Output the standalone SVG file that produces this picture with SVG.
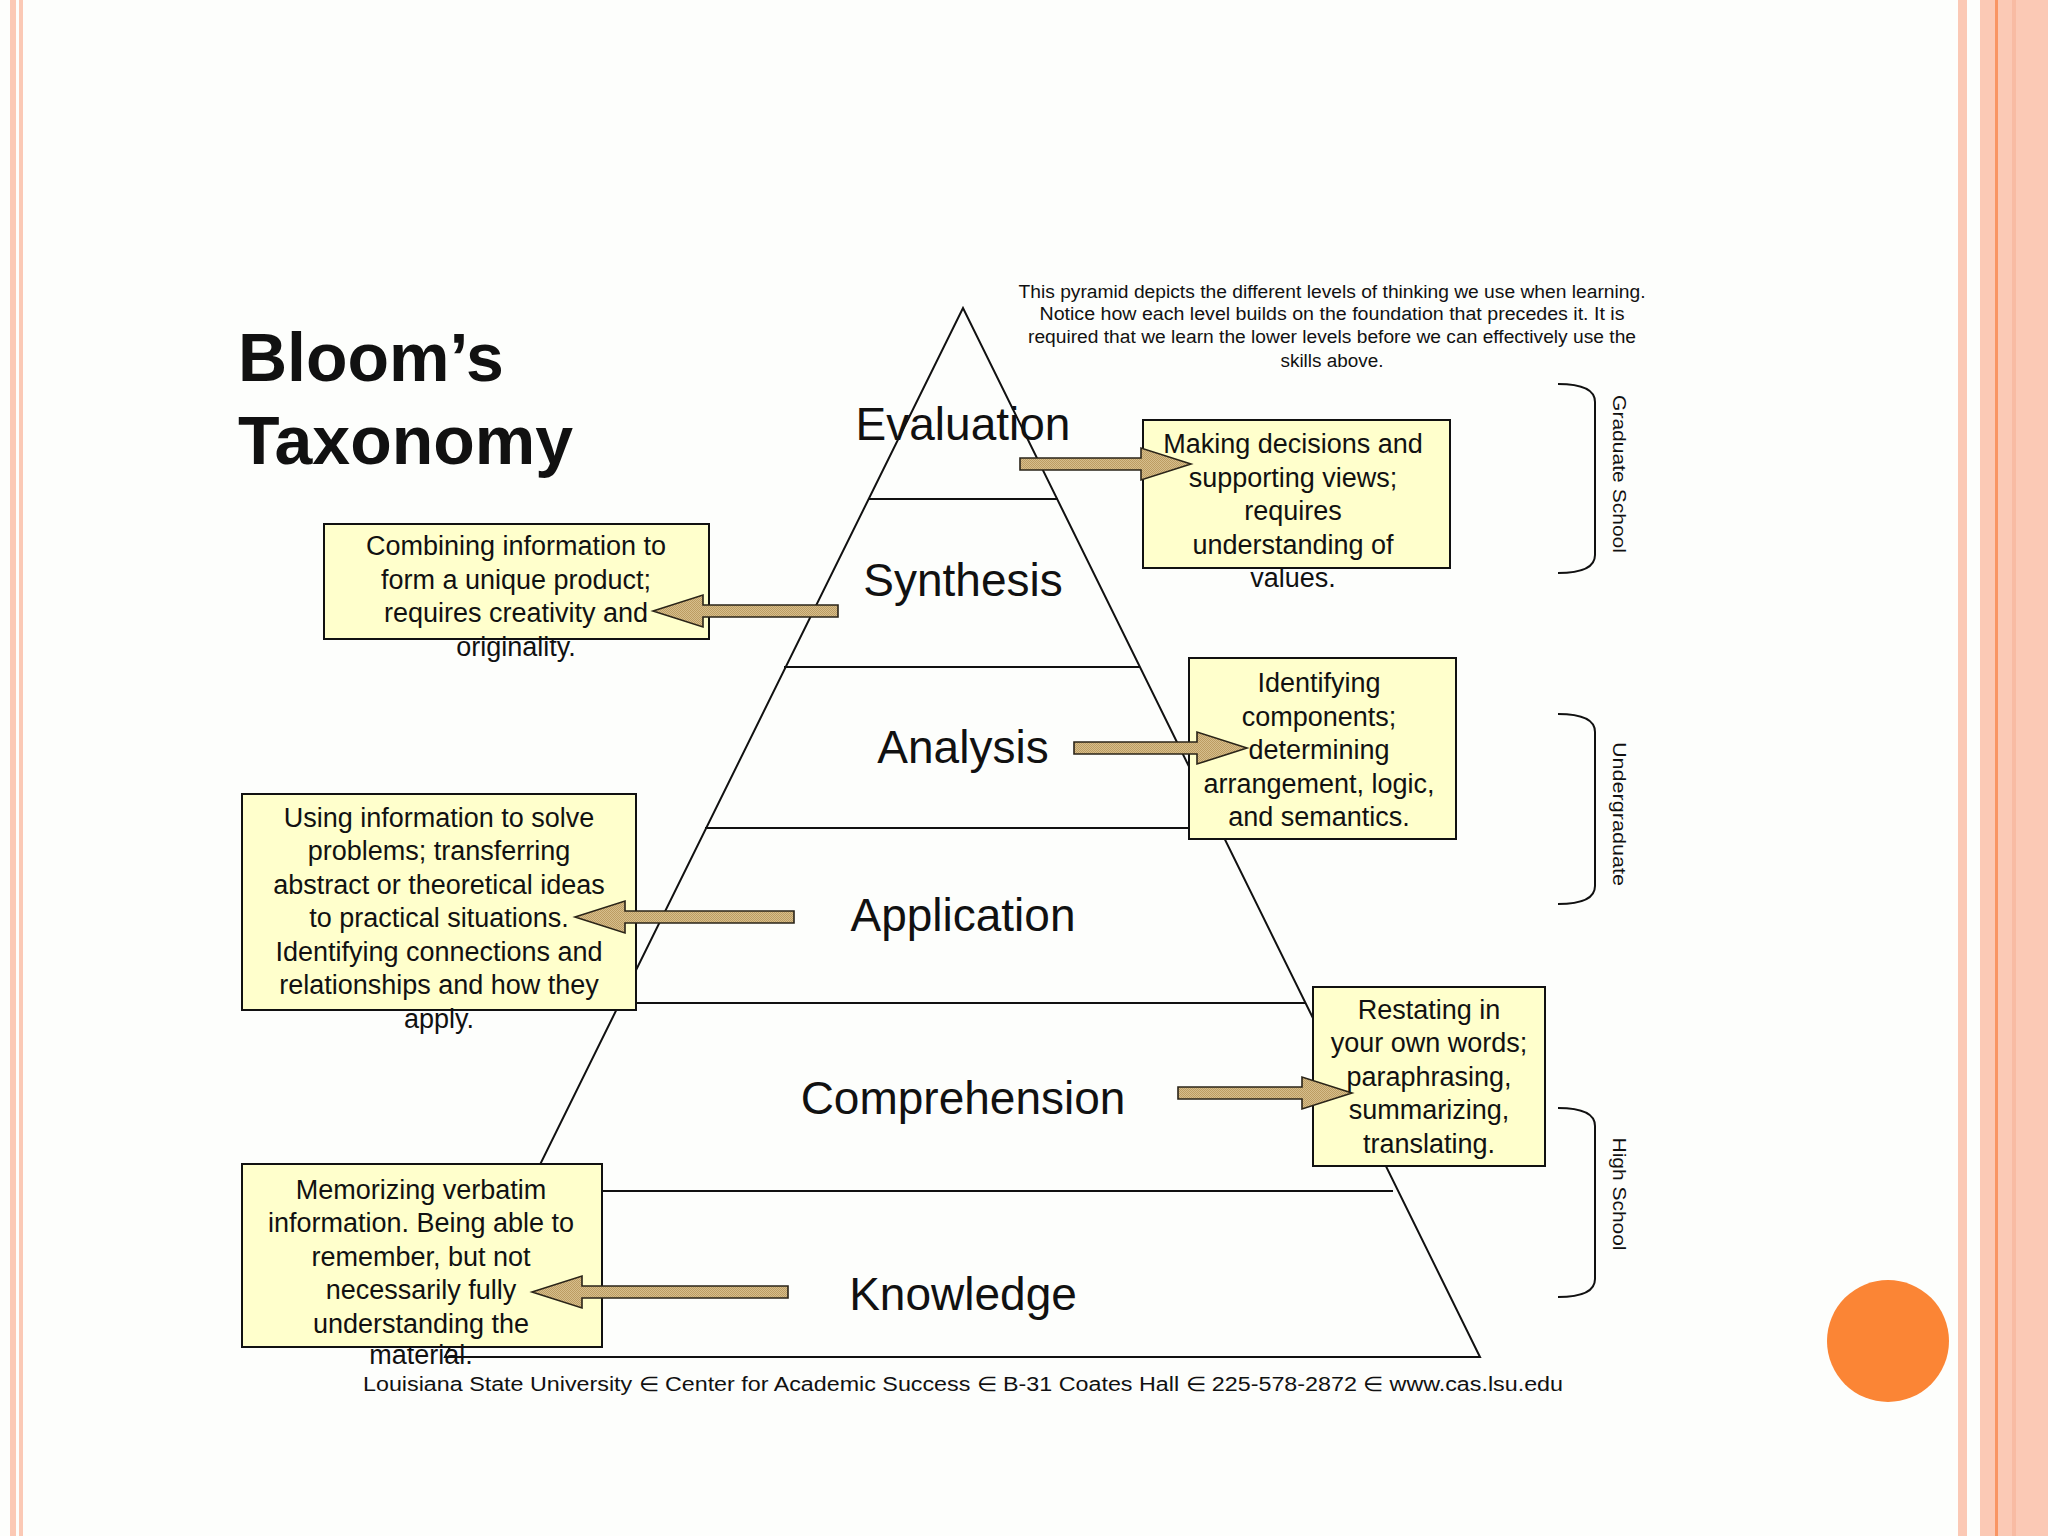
<svg xmlns="http://www.w3.org/2000/svg" width="2048" height="1536" viewBox="0 0 2048 1536">
<style>
.bg{fill:#FDFEFC}
.stripe{fill:#FBC9B5}
.pyr{stroke:#111;stroke-width:2;fill:none}
.box{fill:#FFFFCC;stroke:#111;stroke-width:2}
.bt{font-family:"Liberation Sans",Arial,sans-serif;font-size:27px;fill:#111;text-anchor:middle}
.lvl{font-family:"Liberation Sans",Arial,sans-serif;font-size:46px;fill:#111;text-anchor:middle}
.note{font-family:"Liberation Sans",Arial,sans-serif;font-size:18px;fill:#111;text-anchor:middle}
.arr{fill:url(#dither);stroke:#2a2418;stroke-width:1.6;stroke-linejoin:miter}
.br{fill:none;stroke:#111;stroke-width:2}
.side{font-family:"Liberation Sans",Arial,sans-serif;font-size:19px;fill:#111;text-anchor:middle}
</style>
<defs>
<pattern id="dither" width="2" height="2" patternUnits="userSpaceOnUse">
<rect x="0" y="0" width="2" height="2" fill="#D6BE8C"/>
<rect x="0" y="0" width="1" height="1" fill="#BC9C62"/>
<rect x="1" y="1" width="1" height="1" fill="#BC9C62"/>
</pattern>
</defs>
<rect class="bg" x="0" y="0" width="2048" height="1536"/>
<g id="slide-borders">
<rect class="stripe" x="10" y="0" width="6" height="1536"/>
<rect class="stripe" x="19" y="0" width="4" height="1536"/>
<rect class="stripe" x="1958" y="0" width="9" height="1536"/>
<rect class="stripe" x="1980" y="0" width="68" height="1536"/>
<rect x="1995" y="0" width="3" height="1536" fill="#F99563"/>
<rect x="2012" y="0" width="4" height="1536" fill="#F8BBA3"/>
</g>
<circle id="orange-dot" cx="1888" cy="1341" r="61" fill="#FB8535"/>
<g id="title">
<text x="238" y="381" font-family="Liberation Sans,Arial,sans-serif" font-weight="bold" font-size="68" fill="#111">Bloom’s</text>
<text x="238" y="464" font-family="Liberation Sans,Arial,sans-serif" font-weight="bold" font-size="68" fill="#111">Taxonomy</text>
</g>
<g id="note">
<text class="note" x="1332" y="298" textLength="627" lengthAdjust="spacingAndGlyphs">This pyramid depicts the different levels of thinking we use when learning.</text>
<text class="note" x="1332" y="320" textLength="585" lengthAdjust="spacingAndGlyphs">Notice how  each level builds on the foundation that precedes it.  It is</text>
<text class="note" x="1332" y="343" textLength="608" lengthAdjust="spacingAndGlyphs">required that we learn the lower levels before we can effectively use the</text>
<text class="note" x="1332" y="367" textLength="103" lengthAdjust="spacingAndGlyphs">skills above.</text>
</g>
<g id="pyramid">
<path class="pyr" d="M445,1357 L963,308 L1480,1357 Z"/>
<line class="pyr" x1="868" y1="499" x2="1058" y2="499"/>
<line class="pyr" x1="784" y1="667" x2="1140" y2="667"/>
<line class="pyr" x1="705" y1="828" x2="1220" y2="828"/>
<line class="pyr" x1="620" y1="1003" x2="1306" y2="1003"/>
<line class="pyr" x1="534" y1="1191" x2="1393" y2="1191"/>
</g>
<g id="level-evaluation"><text class="lvl" x="963" y="440">Evaluation</text></g>
<g id="level-synthesis"><text class="lvl" x="963" y="596">Synthesis</text></g>
<g id="level-analysis"><text class="lvl" x="963" y="763">Analysis</text></g>
<g id="level-application"><text class="lvl" x="963" y="931">Application</text></g>
<g id="level-comprehension"><text class="lvl" x="963" y="1114">Comprehension</text></g>
<g id="level-knowledge"><text class="lvl" x="963" y="1310">Knowledge</text></g>
<g id="box-evaluation">
<rect class="box" x="1143" y="420" width="307" height="148"/>
<text class="bt" x="1293" y="453">Making decisions and</text>
<text class="bt" x="1293" y="487">supporting views;</text>
<text class="bt" x="1293" y="520">requires</text>
<text class="bt" x="1293" y="554">understanding of</text>
<text class="bt" x="1293" y="587">values.</text>
</g>
<g id="box-synthesis">
<rect class="box" x="324" y="524" width="385" height="115"/>
<text class="bt" x="516" y="555">Combining information to</text>
<text class="bt" x="516" y="589">form a unique product;</text>
<text class="bt" x="516" y="622">requires creativity and</text>
<text class="bt" x="516" y="656">originality.</text>
</g>
<g id="box-analysis">
<rect class="box" x="1189" y="658" width="267" height="181"/>
<text class="bt" x="1319" y="692">Identifying</text>
<text class="bt" x="1319" y="726">components;</text>
<text class="bt" x="1319" y="759">determining</text>
<text class="bt" x="1319" y="793">arrangement, logic,</text>
<text class="bt" x="1319" y="826">and semantics.</text>
</g>
<g id="box-application">
<rect class="box" x="242" y="794" width="394" height="216"/>
<text class="bt" x="439" y="827">Using information to solve</text>
<text class="bt" x="439" y="860">problems; transferring</text>
<text class="bt" x="439" y="894">abstract or theoretical ideas</text>
<text class="bt" x="439" y="927">to practical situations.</text>
<text class="bt" x="439" y="961">Identifying connections and</text>
<text class="bt" x="439" y="994">relationships and how they</text>
<text class="bt" x="439" y="1028">apply.</text>
</g>
<g id="box-comprehension">
<rect class="box" x="1313" y="987" width="232" height="179"/>
<text class="bt" x="1429" y="1019">Restating in</text>
<text class="bt" x="1429" y="1052">your own words;</text>
<text class="bt" x="1429" y="1086">paraphrasing,</text>
<text class="bt" x="1429" y="1119">summarizing,</text>
<text class="bt" x="1429" y="1153">translating.</text>
</g>
<g id="box-knowledge">
<rect class="box" x="242" y="1164" width="360" height="183"/>
<text class="bt" x="421" y="1199">Memorizing verbatim</text>
<text class="bt" x="421" y="1232">information. Being able to</text>
<text class="bt" x="421" y="1266">remember, but not</text>
<text class="bt" x="421" y="1299">necessarily fully</text>
<text class="bt" x="421" y="1333">understanding the</text>
<text class="bt" x="421" y="1364">material.</text>
</g>
<g id="connectors">
<polygon class="arr" points="1191,464 1141,448 1141,458 1020,458 1020,470 1141,470 1141,480"/>
<polygon class="arr" points="653,611 703,595 703,605 838,605 838,617 703,617 703,627"/>
<polygon class="arr" points="1247,748 1197,732 1197,742 1074,742 1074,754 1197,754 1197,764"/>
<polygon class="arr" points="575,917 625,901 625,911 794,911 794,923 625,923 625,933"/>
<polygon class="arr" points="1352,1093 1302,1077 1302,1087 1178,1087 1178,1099 1302,1099 1302,1109"/>
<polygon class="arr" points="532,1292 582,1276 582,1286 788,1286 788,1298 582,1298 582,1308"/>
</g>
<g id="bracket-graduate">
<path class="br" d="M1558,384 Q1595,384 1595,402 L1595,555 Q1595,573 1558,573"/>
<text class="side" transform="translate(1613,474) rotate(90)" textLength="158" lengthAdjust="spacingAndGlyphs">Graduate School</text>
</g>
<g id="bracket-undergraduate">
<path class="br" d="M1558,714 Q1595,714 1595,732 L1595,886 Q1595,904 1558,904"/>
<text class="side" transform="translate(1613,814) rotate(90)" textLength="144" lengthAdjust="spacingAndGlyphs">Undergraduate</text>
</g>
<g id="bracket-highschool">
<path class="br" d="M1558,1108 Q1595,1108 1595,1126 L1595,1279 Q1595,1297 1558,1297"/>
<text class="side" transform="translate(1613,1194) rotate(90)" textLength="113" lengthAdjust="spacingAndGlyphs">High School</text>
</g>
<g id="footer">
<text x="963" y="1391" font-family="Liberation Sans,Arial,sans-serif" font-size="20" fill="#111" text-anchor="middle" textLength="1200" lengthAdjust="spacingAndGlyphs">Louisiana State University ∈ Center for Academic Success ∈ B-31 Coates Hall ∈ 225-578-2872 ∈ www.cas.lsu.edu</text>
</g>
</svg>
